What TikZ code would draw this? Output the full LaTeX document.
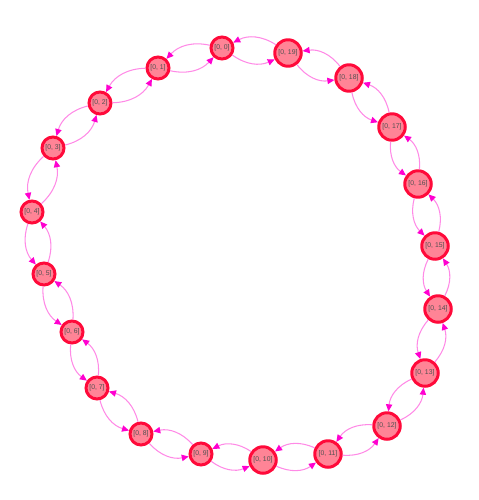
\documentclass[tikz,border=0pt]{standalone}
\usepackage{fontspec}
\setsansfont{Liberation Sans}
\usepackage{tikz}
\usetikzlibrary{arrows.meta}
\definecolor{nodefill}{HTML}{FF8496}
\definecolor{noderim}{HTML}{FF0A3A}
\definecolor{edgepink}{HTML}{FF8AE6}
\definecolor{tipmag}{HTML}{FF00D0}
\definecolor{labgray}{HTML}{505050}

\tikzset{
  ring/.style={circle, draw=noderim, fill=nodefill, line width=1.7pt, inner sep=0pt,
    font=\fontsize{3.9}{4}\selectfont\sffamily, text=labgray},
  ringsmall/.style={ring, minimum size=0.44cm},
  ringbig/.style={ring, minimum size=0.53cm},
  link/.style={draw=edgepink, line width=0.6pt, bend right=30,
    -{Triangle[length=4pt, width=3.6pt, color=tipmag]}}
}

\begin{document}
\begin{tikzpicture}[x=0.02cm, y=-0.02cm]
  \useasboundingbox (0,0) rectangle (478,500);

  %% vertices [0, k], laid out on a ring
  \foreach \k/\px/\py/\sz in {
    0/222/48/ringsmall,
    1/158/68/ringsmall,
    2/100/103/ringsmall,
    3/53/148/ringsmall,
    4/32/212/ringsmall,
    5/44/274/ringsmall,
    6/72/332/ringsmall,
    7/97/388/ringsmall,
    8/141/434/ringsmall,
    9/201/454/ringsmall,
    10/263/460/ringbig,
    11/328/454/ringbig,
    12/387/426/ringbig,
    13/425/373/ringbig,
    14/438/309/ringbig,
    15/435/246/ringbig,
    16/418/184/ringbig,
    17/392/127/ringbig,
    18/349/78/ringbig,
    19/288/53/ringbig}{
    \node[\sz] (n\k) at (\px,\py) {[0, \k]};
  }

  %% both directions between neighbours
  \foreach \a in {0,...,19}{
    \pgfmathtruncatemacro{\b}{mod(\a+1,20)}
    \draw[link] (n\a) to (n\b);
    \draw[link] (n\b) to (n\a);
  }

\end{tikzpicture}
\end{document}
